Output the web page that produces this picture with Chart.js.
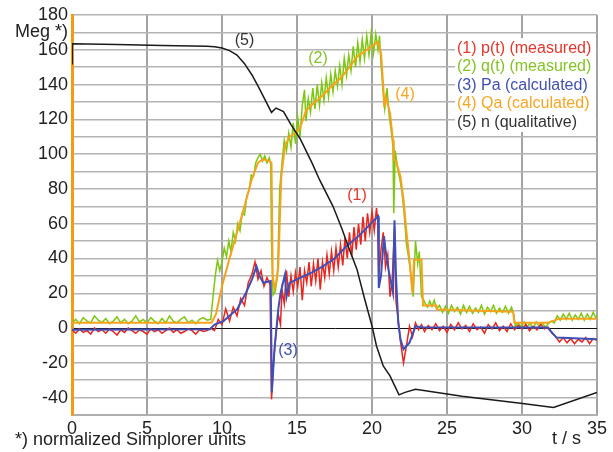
<!DOCTYPE html>
<html><head><meta charset="utf-8">
<script src="https://cdn.jsdelivr.net/npm/chart.js@4.4.1/dist/chart.umd.min.js"></script>
<style>html,body{margin:0;padding:0;background:#fff;}</style>
</head><body>
<canvas id="c" width="613" height="452"></canvas>
<script>
// ---- data (t in s, value in normalized units) ----
const xTickValues = [0,5,10,15,20,25,30,35];
const yTickLabels = {170:'Meg *)'};
const legendLabels = ['(1) p(t) (measured)','(2) q(t) (measured)','(3) Pa (calculated)','(4) Qa (calculated)','(5) n (qualitative)'];
const curveTags = ['(1)','(2)','(3)','(4)','(5)'];
const curveTagPos = [[19.0,76],[16.4,155],[14.4,-13],[22.2,134],[11.5,165]];

const pMeasured = [[0,-1],[0.25,-3],[0.5,-0.5],[0.75,-2.5],[1,-1.5],[1.25,-3.5],[1.5,0],[1.75,-2],[2,-1],[2.25,-3],[2.5,-0.5],[2.75,-2],[3,-4],[3.25,-1],[3.5,-2.5],[3.75,0],[4,-1.5],[4.25,-3],[4.5,-1],[4.75,-2],[5,-3.5],[5.25,-0.5],[5.5,-2],[5.75,-1],[6,-3],[6.25,-1.5],[6.5,0],[6.75,-2.5],[7,-1],[7.25,-3],[7.5,-2],[7.75,-0.5],[8,-1.5],[8.25,-3.5],[8.5,-1],[8.75,-2],[9,-1.5],
[9.25,0],[9.5,-1.5],[9.75,5],[10,2],[10.25,11],[10.5,4],[10.75,12],[11,7],[11.25,17],[11.5,13],[11.75,26],[12,31],[12.2,38],[12.4,28],[12.6,33],[12.8,24],[13,29],[13.2,25],[13.3,-41],[13.45,-18],[13.6,-3],[13.75,8],[13.9,2],[14,22],[14.15,14],[14.3,33],[14.45,18],[14.6,30],[14.75,21],[14.9,32],[15.05,24],[15.2,35],[15.35,16],[15.5,33],[15.65,26],[15.8,38],[15.95,24],[16.1,37],[16.25,27],[16.4,40],[16.55,22],[16.7,38],[16.85,29],[17,42],[17.15,31],[17.3,44],[17.45,33],[17.6,46],[17.75,35],[17.9,48],[18.05,36],[18.2,52],[18.35,40],[18.5,55],[18.65,41],[18.8,58],[18.95,45],[19.1,60],[19.25,48],[19.4,64],[19.55,50],[19.7,66],[19.85,55],[20,67],[20.15,56],[20.3,69],[20.4,60],[20.45,30],[20.6,45],[20.75,55],[20.9,35],[21.05,42],[21.2,18],[21.35,28],[21.5,58],[21.6,15],[21.75,5],[21.9,-8],[22.1,-20],[22.3,-10],[22.5,1],[22.7,-5],[22.9,3],[23.1,-1],[23.3,2],[23.5,-2],[23.75,1.5],[24,-1],[24.25,2.5],[24.5,-1.5],[24.75,1],[25,-2.5],[25.25,2],[25.5,-1],[25.75,3],[26,-0.5],[26.25,1.5],[26.5,-2],[26.75,2.5],[27,-1],[27.25,0.5],[27.5,-3],[27.75,2],[28,-0.5],[28.25,3],[28.5,-1.5],[28.75,1],[29,-2],[29.25,2.5],[29.5,-1],[29.75,1.5],[30,-0.5],[30.25,2],[30.5,-1.5],[30.75,1],[31,-1],[31.25,2],[31.5,-0.5],[31.75,0.5],[32,-3],[32.25,-5],[32.5,-8],[32.75,-5.5],[33,-8.5],[33.25,-6],[33.5,-9],[33.75,-6.5],[34,-8],[34.25,-5.5],[34.5,-9],[34.75,-6],[35,-7]];

const qMeasured = [[0,3],[0.25,5],[0.5,2.5],[0.75,6],[1,4],[1.25,3],[1.5,7],[1.75,4.5],[2,3],[2.25,5.5],[2.5,2.5],[2.75,4],[3,6.5],[3.25,3],[3.5,5],[3.75,2.5],[4,4],[4.25,7],[4.5,3.5],[4.75,5],[5,3],[5.25,6],[5.5,4],[5.75,2.5],[6,5.5],[6.25,3],[6.5,7],[6.75,4],[7,3],[7.25,5],[7.5,6.5],[7.75,3],[8,4.5],[8.25,2.5],[8.5,5],[8.75,6],[9,4.5],
[9.25,5],[9.4,18],[9.55,30],[9.7,39],[9.85,33],[10,38],[10.15,46],[10.3,41],[10.45,50],[10.6,44],[10.75,55],[10.9,50],[11.05,60],[11.2,56],[11.35,66],[11.5,65],[11.65,76],[11.8,79],[11.95,88],[12.1,87],[12.25,95],[12.4,98],[12.55,100],[12.7,96],[12.85,99],[13,95],[13.15,98],[13.25,94],[13.3,50],[13.4,19],[13.55,21],[13.7,30],[13.85,80],[14,95],[14.15,108],[14.3,102],[14.45,112],[14.6,104],[14.75,118],[14.9,106],[15.05,121],[15.2,110],[15.35,128],[15.5,137],[15.6,119],[15.75,132],[15.9,124],[16.05,138],[16.2,126],[16.35,140],[16.5,128],[16.65,141],[16.8,131],[16.95,144],[17.1,133],[17.25,146],[17.4,136],[17.55,148],[17.7,139],[17.85,151],[18,140],[18.15,155],[18.3,145],[18.45,157],[18.6,148],[18.75,162],[18.9,150],[19.05,164],[19.2,153],[19.35,166],[19.5,155],[19.65,168],[19.8,157],[19.95,170],[20.1,158],[20.25,169],[20.4,160],[20.5,168],[20.6,152],[20.75,135],[20.85,126],[21,138],[21.15,122],[21.3,112],[21.4,104],[21.45,66],[21.55,102],[21.7,92],[21.85,86],[22,78],[22.15,65],[22.3,48],[22.45,40],[22.6,30],[22.75,18],[22.9,50],[23.05,37],[23.15,44],[23.3,18],[23.4,17],[23.55,14],[23.7,12],[23.85,15.5],[24,12.5],[24.15,16],[24.3,11],[24.5,13],[24.7,9],[24.9,12.5],[25.1,8.5],[25.3,13],[25.5,9.5],[25.7,12],[25.9,8],[26.1,13],[26.3,9],[26.5,12.5],[26.7,8.5],[26.9,11.5],[27.1,9],[27.3,13],[27.5,8],[27.7,12],[27.9,9.5],[28.1,13],[28.3,8.5],[28.5,11.5],[28.7,9],[28.9,12.5],[29.1,8.5],[29.3,12],[29.45,8],[29.55,1],[29.75,3],[29.95,0.5],[30.15,3.5],[30.35,1],[30.55,2.5],[30.75,0],[30.95,3.5],[31.15,1],[31.35,3],[31.55,0.5],[31.75,2.5],[31.95,4],[32.15,3],[32.35,7],[32.55,4.5],[32.75,8],[32.95,5],[33.15,8.5],[33.35,4.5],[33.55,7.5],[33.75,5],[33.95,8.5],[34.15,4.5],[34.35,8],[34.55,5],[34.75,9],[34.95,5.5],[35,7]];

const paCalculated = [[0,-1],[9.2,-0.7],[9.5,2],[10.1,4],[10.5,7],[11,10.7],[11.6,20.3],[12,28],[12.3,35.6],[12.5,30],[12.75,26],[13.25,27],[13.32,-37],[13.5,-12],[13.75,10.7],[13.9,20],[14.2,30.8],[14.3,18],[14.5,26],[15,28],[15.5,30],[16,32],[16.75,35.6],[17.5,40],[18.3,47],[19,52],[19.7,58],[20.4,64.3],[20.45,23],[20.6,30],[20.8,52.8],[20.9,45],[21.1,33.7],[21.4,20.3],[21.5,62],[21.6,30],[21.75,3],[21.9,-6.5],[22.1,-12.2],[22.5,-8.4],[22.9,1],[23.3,0.5],[31.7,0.3],[32.3,-5.5],[35,-6.5]];

const qaCalculated = [[0,3],[9.3,3],[9.6,8],[10,24],[10.5,40],[11,55],[11.5,70],[12,86],[12.4,95],[12.7,97],[13.2,96],[13.3,95],[13.38,30],[13.5,23],[13.6,26],[13.75,35],[13.95,87],[14.2,105],[14.5,110],[14.9,112],[15.2,115],[15.6,125],[16.2,130],[16.75,134],[17.3,139],[17.9,143.6],[18.5,150],[19,156],[19.5,159],[20,162],[20.4,164.7],[20.6,158],[20.75,139],[20.82,127],[20.92,133],[21.2,123.6],[21.4,108],[21.45,97],[21.6,96],[21.9,87],[22.1,74],[22.3,55],[22.5,39.4],[22.7,20],[22.8,39.4],[23.3,39.4],[23.4,13],[24.3,13],[24.35,10.7],[29.4,9.4],[29.5,3],[31.7,3],[32.5,5.4],[35,5.4]];

const nQualitative = [[0,152],[0.02,163.5],[3,163],[6,162.5],[9,162],[9.5,161.8],[10,161],[10.5,159.5],[11,157],[11.5,152],[12,145.5],[12.5,137.5],[13,129],[13.3,124],[13.6,126.5],[14.1,124.5],[14.6,117],[15.2,109],[16,95],[16.5,85.3],[17.4,70],[18,57],[18.5,45],[19,33.7],[19.5,17],[20,1.2],[20.3,-10.3],[20.75,-21.8],[21.2,-27.5],[21.5,-33],[21.8,-38.4],[22.2,-37],[22.9,-35.2],[26,-39.2],[29.9,-43.2],[32.1,-45.7],[35,-37]];

const seriesColors = ['#e8261e','#7cc710','#3f4fb8','#f7a21b','#1a1a1a'];
const labelColors  = ['#e3362c','#84c225','#4050b0','#f5a623','#333333'];

const toXY = arr => arr.map(p => ({x:p[0], y:p[1]}));
const FONT = "'Liberation Sans', Arial, sans-serif";

const overlay = {
  id:'overlay',
  afterDatasetsDraw(chart){
    const ctx = chart.ctx, xs = chart.scales.x, ys = chart.scales.y;
    ctx.save();
    ctx.font = '16px ' + FONT;
    ctx.textAlign = 'center'; ctx.textBaseline = 'middle';
    curveTags.forEach((t,i)=>{
      ctx.fillStyle = labelColors[i];
      ctx.fillText(t, xs.getPixelForValue(curveTagPos[i][0]), ys.getPixelForValue(curveTagPos[i][1]));
    });
    // legend box with white background
    ctx.fillStyle = '#ffffff';
    ctx.fillRect(455, 38, 141, 94);
    ctx.textAlign = 'left';
    legendLabels.forEach((t,i)=>{
      ctx.fillStyle = labelColors[i];
      ctx.fillText(t, 457, 48.5 + i*18.5);
    });
    // footnote and axis title
    ctx.fillStyle = '#222';
    ctx.font = '18px ' + FONT;
    ctx.fillText('*) normalized Simplorer units', 15, 440);
    ctx.fillText('t / s', 552, 439);
    ctx.restore();
  }
};

const mk = (label, data, i, w, order) => ({
  label, data: toXY(data), borderColor: seriesColors[i], backgroundColor: seriesColors[i],
  borderWidth: w, pointRadius: 0, tension: 0, fill: false, order
});

new Chart(document.getElementById('c'), {
  type: 'line',
  data: { datasets: [
    mk(legendLabels[0], pMeasured, 0, 1.5, 3),
    mk(legendLabels[1], qMeasured, 1, 1.5, 5),
    mk(legendLabels[2], paCalculated, 2, 2, 2),
    mk(legendLabels[3], qaCalculated, 3, 2, 4),
    mk(legendLabels[4], nQualitative, 4, 1.5, 1)
  ]},
  options: {
    responsive: false, animation: false, devicePixelRatio: 1,
    layout: { padding: { left: 0, top: 15, right: 16, bottom: 0 } },
    plugins: { legend: { display: false }, tooltip: { enabled: false } },
    scales: {
      x: {
        type: 'linear', min: 0, max: 35,
        afterBuildTicks: s => { s.ticks = xTickValues.map(v => ({value: v})); },
        afterFit: s => { s.height = 37; },
        ticks: { color: '#222', font: { family: FONT, size: 18 }, padding: 3, maxRotation: 0, autoSkip: false },
        grid: { color: '#a3a3a3', lineWidth: 2, drawTicks: false },
        border: { color: '#b0b0b0', width: 2 }
      },
      y: {
        type: 'linear', min: -50, max: 180,
        ticks: {
          stepSize: 10, autoSkip: false, color: '#222', padding: 4,
          font: { family: FONT, size: 18 },
          callback: v => (yTickLabels[v] !== undefined ? yTickLabels[v] : (v % 20 === 0 && v > -50 ? String(v) : ''))
        },
        afterFit: s => { s.width = 72; },
        grid: { color: c => (c.tick && c.tick.value === 0 ? '#111' : '#b3b3b3'), lineWidth: c => (c.tick && c.tick.value === 0 ? 1 : 1.5), drawTicks: false },
        border: { color: '#f39c12', width: 3 }
      }
    }
  },
  plugins: [overlay]
});
</script>
</body></html>
